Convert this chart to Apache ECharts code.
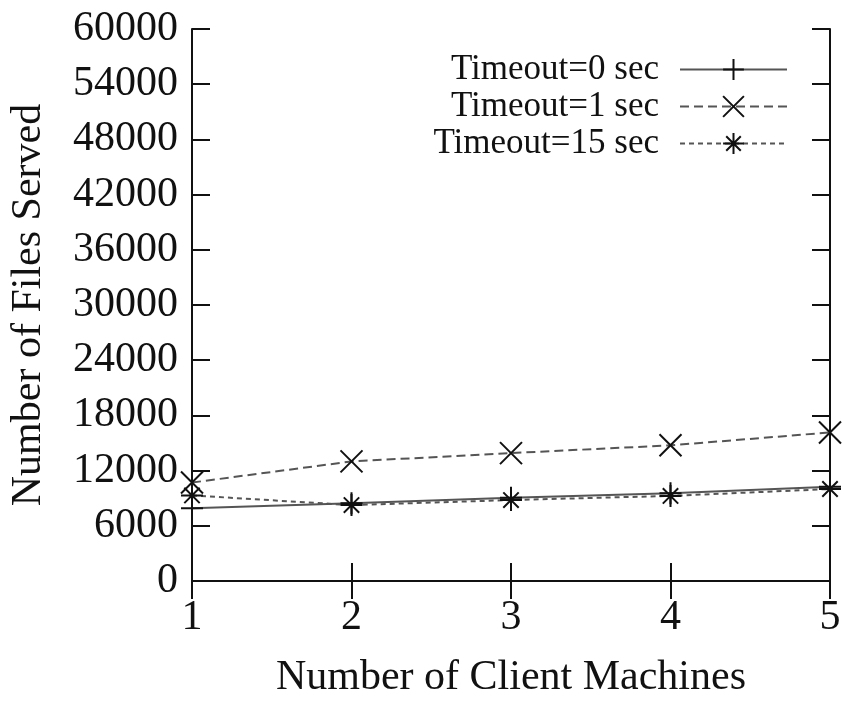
<!DOCTYPE html>
<html>
<head>
<meta charset="utf-8">
<script src="https://cdn.jsdelivr.net/npm/echarts@6/dist/echarts.min.js"></script>
<style>html,body{margin:0;padding:0;background:#fff}#c{width:844px;height:704px}</style>
</head>
<body>
<div id="c"></div>
<script>
const clients = [1, 2, 3, 4, 5];
const timeout0 = [7900, 8450, 9050, 9550, 10250];
const timeout1 = [10700, 13000, 13900, 14750, 16150];
const timeout15 = [9300, 8250, 8800, 9250, 10000];
const seriesNames = ['Timeout=0 sec', 'Timeout=1 sec', 'Timeout=15 sec'];
const yTicks = [0, 6000, 12000, 18000, 24000, 30000, 36000, 42000, 48000, 54000, 60000];

const FONT = '"Liberation Serif", "DejaVu Serif", serif';
const plus = 'path://M1,0L1,2M0,1L2,1';
const cross = 'path://M0,0L2,2M0,2L2,0';
const star = 'path://M1,0L1,2M0,1L2,1M0.3,0.3L1.7,1.7M0.3,1.7L1.7,0.3';

function pairs(vals){ return clients.map((c,i)=>[c, vals[i]]); }

function mk(name, vals, sym, dash){
  return {
    name: name, type: 'line', data: pairs(vals),
    symbol: sym, symbolSize: 22, showSymbol: true,
    lineStyle: {color: '#555', width: 2, type: dash},
    itemStyle: {color: '#111', borderColor: '#111', borderWidth: 2},
    emphasis: {disabled: true}, animation: false
  };
}

const chart = echarts.init(document.getElementById('c'));
const tickCommon = {show: true, inside: true, length: 18, lineStyle: {color: '#111', width: 2}};
chart.setOption({
  backgroundColor: '#fff',
  grid: {left: 191, right: 14, top: 29, bottom: 110},
  legend: {
    data: seriesNames, orient: 'vertical', align: 'right',
    right: 51, top: 47, itemWidth: 107, itemHeight: 26, itemGap: 2,
    textStyle: {fontFamily: FONT, fontSize: 35, color: '#111', padding: [0, 16, 0, 0]},
    selectedMode: false
  },
  xAxis: [{
    type: 'value', min: 1, max: 5, interval: 1,
    name: 'Number of Client Machines', nameLocation: 'middle', nameGap: 76,
    nameTextStyle: {fontFamily: FONT, fontSize: 42, color: '#111'},
    axisLine: {lineStyle: {color: '#111', width: 2}},
    axisTick: tickCommon,
    axisLabel: {fontFamily: FONT, fontSize: 42, color: '#111', margin: 16},
    splitLine: {show: false}
  }, {
    type: 'value', min: 1, max: 5, interval: 1, position: 'top',
    axisLine: {show: true, lineStyle: {color: '#111', width: 2}},
    axisTick: tickCommon, axisLabel: {show: false}, splitLine: {show: false}
  }],
  yAxis: [{
    type: 'value', min: 0, max: 60000, interval: 6000,
    name: 'Number of Files Served', nameLocation: 'middle', nameGap: 142,
    nameTextStyle: {fontFamily: FONT, fontSize: 42, color: '#111'},
    axisLine: {show: true, lineStyle: {color: '#111', width: 2}},
    axisTick: tickCommon,
    axisLabel: {fontFamily: FONT, fontSize: 42, color: '#111', margin: 14,
      formatter: v => yTicks.includes(v) ? String(v) : ''},
    splitLine: {show: false}
  }, {
    type: 'value', min: 0, max: 60000, interval: 6000, position: 'right',
    axisLine: {show: true, lineStyle: {color: '#111', width: 2}},
    axisTick: tickCommon, axisLabel: {show: false}, splitLine: {show: false}
  }],
  series: [
    mk(seriesNames[0], timeout0, plus, 'solid'),
    mk(seriesNames[1], timeout1, cross, [9, 5]),
    mk(seriesNames[2], timeout15, star, [5, 4])
  ]
});
</script>
</body>
</html>
